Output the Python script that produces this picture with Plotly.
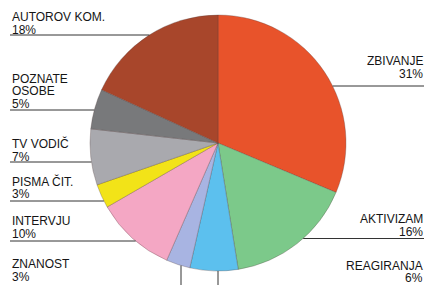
import plotly.graph_objects as go
import math

categories = ["ZBIVANJE", "AKTIVIZAM", "REAGIRANJA", "ZNANOST", "INTERVJU",
              "PISMA ČIT.", "TV VODIČ", "POZNATE OSOBE", "AUTOROV KOM."]
values = [31, 16, 6, 3, 10, 3, 7, 5, 18]
label_lines = [["ZBIVANJE"], ["AKTIVIZAM"], ["REAGIRANJA"], ["ZNANOST"], ["INTERVJU"],
               ["PISMA ČIT."], ["TV VODIČ"], ["POZNATE", "OSOBE"], ["AUTOROV KOM."]]
colors = ["#E8532B", "#7CC98A", "#5CC0EE", "#A8B4E2", "#F4A7C4",
          "#F2E318", "#A9A9AE", "#78797B", "#A8462B"]

W, H = 429, 285
CX, CY, R = 218, 143, 128

# label layout: (side, leader position px, kind, centre y of last text line px, line pitch)
layout_spec = {
    "AUTOROV KOM.": ("left", 35, "h", 29.6, 12.6),
    "POZNATE OSOBE": ("left", 110, "h", 103.6, 12.5),
    "TV VODIČ": ("left", 162, "h", 157.0, 13.3),
    "PISMA ČIT.": ("left", 201, "h", 194.3, 13.3),
    "INTERVJU": ("left", 241, "h", 234.3, 13.3),
    "ZNANOST": ("left", 181, "v", 276.6, 12.5),
    "ZBIVANJE": ("right", 86, "h", 73.6, 12.6),
    "AKTIVIZAM": ("right", 238.5, "h", 232.0, 12.7),
    "REAGIRANJA": ("right", 218, "v", 278.3, 12.5),
}

def px(x):
    return x / W

def py(y):
    return 1 - y / H

fig = go.Figure(go.Pie(
    labels=categories, values=values, sort=False, direction="clockwise",
    rotation=0, textinfo="none", hoverinfo="label+percent",
    marker=dict(colors=colors, line=dict(color="rgba(80,60,60,0.5)", width=0.6)),
    domain=dict(x=[px(CX - R), px(CX + R)], y=[py(CY + R), py(CY - R)]),
    showlegend=False,
))

shapes = []
annotations = []
font = dict(family="Arial, Liberation Sans, sans-serif", size=12, color="#151515")
for cat, val, lines in zip(categories, values, label_lines):
    side, pos, kind, last_c, pitch = layout_spec[cat]
    if kind == "h":
        dx = math.sqrt(R * R - (pos - CY) ** 2)
        if side == "left":
            x0, x1 = 10, CX - dx
        else:
            x0, x1 = CX + dx, 424
        shapes.append(dict(type="line", xref="paper", yref="paper",
                           x0=px(x0), x1=px(x1), y0=py(pos), y1=py(pos),
                           line=dict(color="#333333", width=1)))
    else:
        dy = math.sqrt(R * R - (pos - CX) ** 2)
        shapes.append(dict(type="line", xref="paper", yref="paper",
                           x0=px(pos), x1=px(pos), y0=py(CY + dy), y1=py(285),
                           line=dict(color="#333333", width=1)))
    all_lines = lines + [f"{val}%"]
    n = len(all_lines)
    for i, t in enumerate(all_lines):
        yc = last_c - (n - 1 - i) * pitch
        annotations.append(dict(
            text=t, xref="paper", yref="paper", showarrow=False,
            x=px(10.5) if side == "left" else px(424),
            xanchor="left" if side == "left" else "right",
            y=py(yc), yanchor="middle", font=font, borderpad=0,
        ))

fig.update_layout(
    width=W, height=H, margin=dict(l=0, r=0, t=0, b=0),
    paper_bgcolor="white", plot_bgcolor="white",
    shapes=shapes, annotations=annotations,
)
fig.write_html("out.html", config={"displayModeBar": False},
               post_script="document.body.style.margin='0px';document.body.style.overflow='hidden';")
